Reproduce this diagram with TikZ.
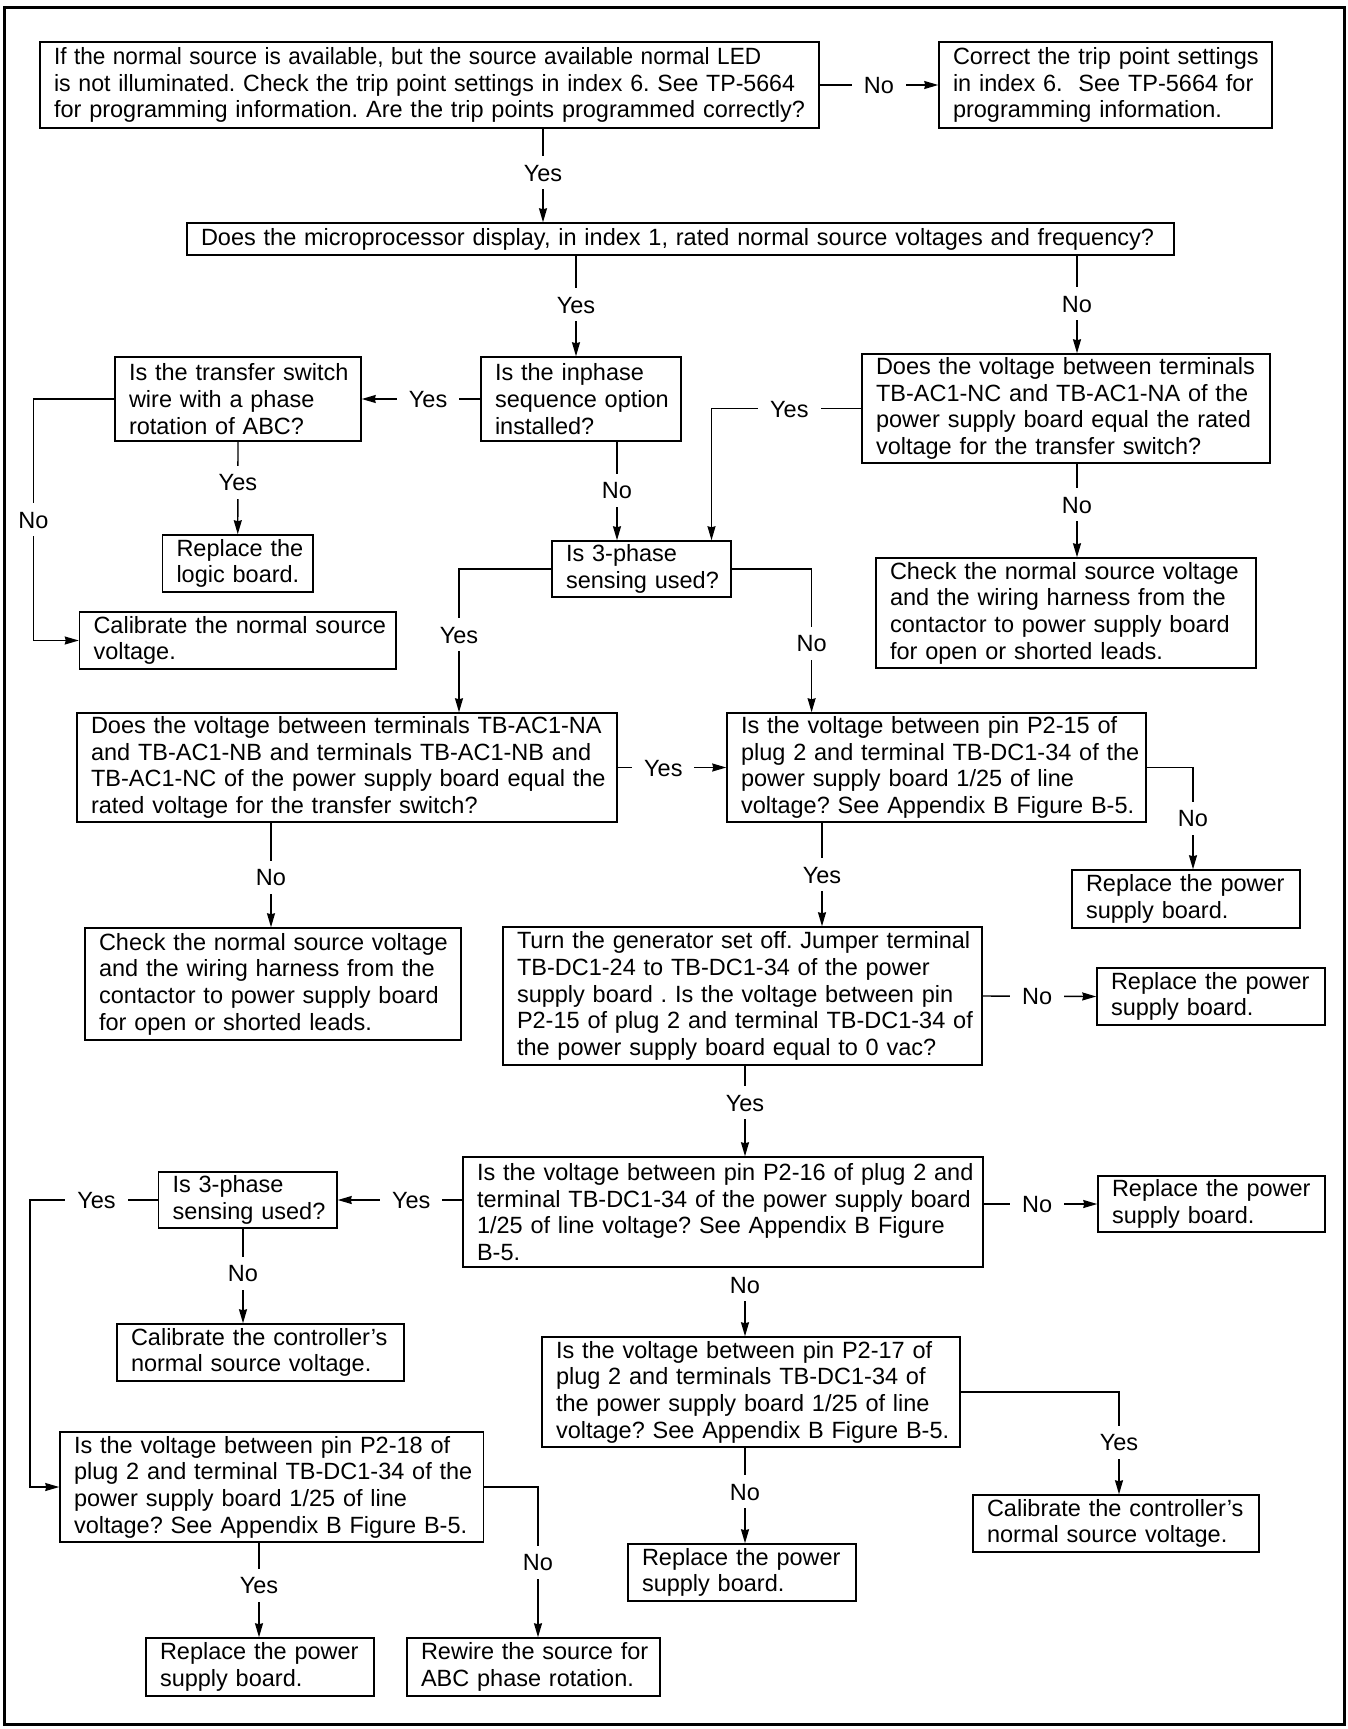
\documentclass[tikz,border=0pt]{standalone}
\usepackage{fontspec}
\usepackage{graphicx}
\setmainfont{Liberation Sans}
\usetikzlibrary{arrows.meta}
\newcommand\fs{\fontsize{23.5pt}{26.7pt}\selectfont\frenchspacing}
\begin{document}
\frenchspacing
\begin{tikzpicture}[x=1pt,y=-1pt,
  box/.style 2 args={draw, line width=1.5pt, inner xsep=14pt, inner ysep=0pt, text width=#1pt, minimum height=#2pt, align=left, font=\fs},
  lbl/.style={fill=white, inner xsep=12pt, inner ysep=8pt, text height=17pt, text depth=0pt, font=\fs},
  ln/.style={line width=1.4pt},
  arr/.style={ln, -{Stealth[length=14pt,width=8pt,inset=1pt]}}]
\useasboundingbox (0,0) rectangle (1348,1729);
\draw[line width=3pt] (4.5,7) rectangle (1344.5,1724);

\node[box={751}{86}] (b1) at (429.5,85) {\scalebox{0.96}[1]{If the normal source is available, but the source available normal LED}\\\scalebox{0.985}[1]{is not illuminated. Check the trip point settings in index 6. See TP-5664}\\\mbox{for programming information. Are the trip points programmed correctly?}};
\node[box={305}{86}] (b2) at (1105.5,85) {\mbox{Correct the trip point settings}\\\mbox{in index 6.\ \ See TP-5664 for}\\\mbox{programming information.}};
\node[box={959}{32}] (b3) at (680.5,239) {\mbox{Does the microprocessor display, in index 1, rated normal source voltages and frequency?}};
\node[box={172}{84}] (b4) at (581,399) {\mbox{Is the inphase}\\\mbox{sequence option}\\\mbox{installed?}};
\node[box={218}{84}] (b5) at (238,399) {\mbox{Is the transfer switch}\\\mbox{wire with a phase}\\\mbox{rotation of ABC?}};
\node[box={122.5}{57}] (b6) at (237.75,563.5) {\mbox{Replace the}\\\mbox{logic board.}};
\node[box={288.5}{57}] (b7) at (237.75,640.5) {\mbox{Calibrate the normal source}\\\mbox{voltage.}};
\node[box={151}{56}] (b8) at (641.5,569) {\mbox{Is 3-phase}\\\mbox{sensing used?}};
\node[box={380}{109}] (b9) at (1066,408.5) {\mbox{Does the voltage between terminals}\\\mbox{TB-AC1-NC and TB-AC1-NA of the}\\\mbox{power supply board equal the rated}\\\mbox{voltage for the transfer switch?}};
\node[box={352}{110}] (b10) at (1066,613) {\mbox{Check the normal source voltage}\\\mbox{and the wiring harness from the}\\\mbox{contactor to power supply board}\\\mbox{for open or shorted leads.}};
\node[box={512}{109}] (b11) at (347,767.5) {\mbox{Does the voltage between terminals TB-AC1-NA}\\\mbox{and TB-AC1-NB and terminals TB-AC1-NB and}\\\mbox{TB-AC1-NC of the power supply board equal the}\\\mbox{rated voltage for the transfer switch?}};
\node[box={391}{109}] (b12) at (936.5,767.5) {\mbox{Is the voltage between pin P2-15 of}\\\mbox{plug 2 and terminal TB-DC1-34 of the}\\\mbox{power supply board 1/25 of line}\\\mbox{voltage? See Appendix B Figure B-5.}};
\node[box={348}{112}] (b13) at (273,984) {\mbox{Check the normal source voltage}\\\mbox{and the wiring harness from the}\\\mbox{contactor to power supply board}\\\mbox{for open or shorted leads.}};
\node[box={200}{58}] (b14) at (1186,899) {\mbox{Replace the power}\\\mbox{supply board.}};
\node[box={451}{138}] (b15) at (742.5,996) {\mbox{Turn the generator set off. Jumper terminal}\\\mbox{TB-DC1-24 to TB-DC1-34 of the power}\\\mbox{supply board . Is the voltage between pin}\\\mbox{P2-15 of plug 2 and terminal TB-DC1-34 of}\\\mbox{the power supply board equal to 0 vac?}};
\node[box={200}{57}] (b16) at (1211,996.5) {\mbox{Replace the power}\\\mbox{supply board.}};
\node[box={492}{110}] (b17) at (723,1212) {\mbox{Is the voltage between pin P2-16 of plug 2 and}\\\mbox{terminal TB-DC1-34 of the power supply board}\\\mbox{1/25 of line voltage? See Appendix B Figure}\\\mbox{B-5.}};
\node[box={199}{56}] (b18) at (1211.5,1204) {\mbox{Replace the power}\\\mbox{supply board.}};
\node[box={150.5}{56}] (b19) at (247.75,1200) {\mbox{Is 3-phase}\\\mbox{sensing used?}};
\node[box={259}{57}] (b20) at (260.5,1352.5) {\mbox{Calibrate the controller’s}\\\mbox{normal source voltage.}};
\node[box={390}{110}] (b21) at (751,1392) {\mbox{Is the voltage between pin P2-17 of}\\\mbox{plug 2 and terminals TB-DC1-34 of}\\\mbox{the power supply board 1/25 of line}\\\mbox{voltage? See Appendix B Figure B-5.}};
\node[box={258}{57}] (b22) at (1116,1523.5) {\mbox{Calibrate the controller’s}\\\mbox{normal source voltage.}};
\node[box={200}{57}] (b23) at (742,1572.5) {\mbox{Replace the power}\\\mbox{supply board.}};
\node[box={395.5}{110}] (b24) at (271.75,1487) {\mbox{Is the voltage between pin P2-18 of}\\\mbox{plug 2 and terminal TB-DC1-34 of the}\\\mbox{power supply board 1/25 of line}\\\mbox{voltage? See Appendix B Figure B-5.}};
\node[box={200}{58}] (b25) at (260,1667) {\mbox{Replace the power}\\\mbox{supply board.}};
\node[box={225}{58}] (b26) at (533.5,1667) {\mbox{Rewire the source for}\\\mbox{ABC phase rotation.}};

\draw[arr] (b1.east) -- node[lbl]{No} (b2.west);
\draw[arr] (b1.south -| 543,0) -- node[lbl,pos=.47]{Yes} (b3.north -| 543,0);
\draw[arr] (b3.south -| 576,0) -- node[lbl,pos=.49]{Yes} (b4.north -| 576,0);
\draw[arr] (b3.south -| 1077,0) -- node[lbl,pos=.49]{No} (b9.north -| 1077,0);
\draw[arr] (b4.west) -- node[lbl,pos=.44]{Yes} (b5.east);
\draw[arr] (b5.south) -- node[lbl,pos=.44]{Yes} (b6.north);
\draw[arr] (b5.west) -- (b5.west -| 33.5,0) |- node[lbl,pos=.25]{No} (b7.west);
\draw[arr] (b4.south -| 617,0) -- node[lbl,pos=.49]{No} (b8.north -| 617,0);
\draw[arr] (b9.west) -| node[lbl,pos=.24]{Yes} (b8.north -| 711.5,0);
\draw[arr] (b9.south -| 1077,0) -- node[lbl,pos=.44]{No} (b10.north -| 1077,0);
\draw[arr] (b8.west) -| node[lbl,pos=.73]{Yes} (b11.north -| 459,0);
\draw[arr] (b8.east) -| node[lbl,pos=.76]{No} (b12.north -| 811.6,0);
\draw[arr] (b11.east) -- node[lbl,pos=.42]{Yes} (b12.west);
\draw[arr] (b11.south -| 271,0) -- node[lbl,pos=.52]{No} (b13.north -| 271,0);
\draw[arr] (b12.east) -| node[lbl,pos=.75]{No} (b14.north -| 1193,0);
\draw[arr] (b12.south -| 822,0) -- node[lbl,pos=.5]{Yes} (b15.north -| 822,0);
\draw[arr] (b15.east) -- node[lbl,pos=.48]{No} (b16.west);
\draw[arr] (b15.south -| 745,0) -- node[lbl,pos=.41]{Yes} (b17.north -| 745,0);
\draw[arr] (b17.east |- b18.west) -- node[lbl,pos=.47]{No} (b18.west);
\draw[arr] (b17.west |- b19.east) -- node[lbl,pos=.41]{Yes} (b19.east);
\draw[arr] (b19.west) -- node[lbl,pos=.48]{Yes} (b19.west -| 30,0) |- (b24.west);
\draw[arr] (b19.south -| 243,0) -- node[lbl,pos=.47]{No} (b20.north -| 243,0);
\draw[arr] (b17.south -| 745,0) -- node[lbl,pos=.25]{No} (b21.north -| 745,0);
\draw[arr] (b21.east) -| node[lbl,pos=.745]{Yes} (b22.north -| 1119,0);
\draw[arr] (b21.south -| 745,0) -- node[lbl,pos=.46]{No} (b23.north -| 745,0);
\draw[arr] (b24.south -| 259,0) -- node[lbl,pos=.45]{Yes} (b25.north -| 259,0);
\draw[arr] (b24.east) -| node[lbl,pos=.75]{No} (b26.north -| 538,0);
\end{tikzpicture}
\end{document}
